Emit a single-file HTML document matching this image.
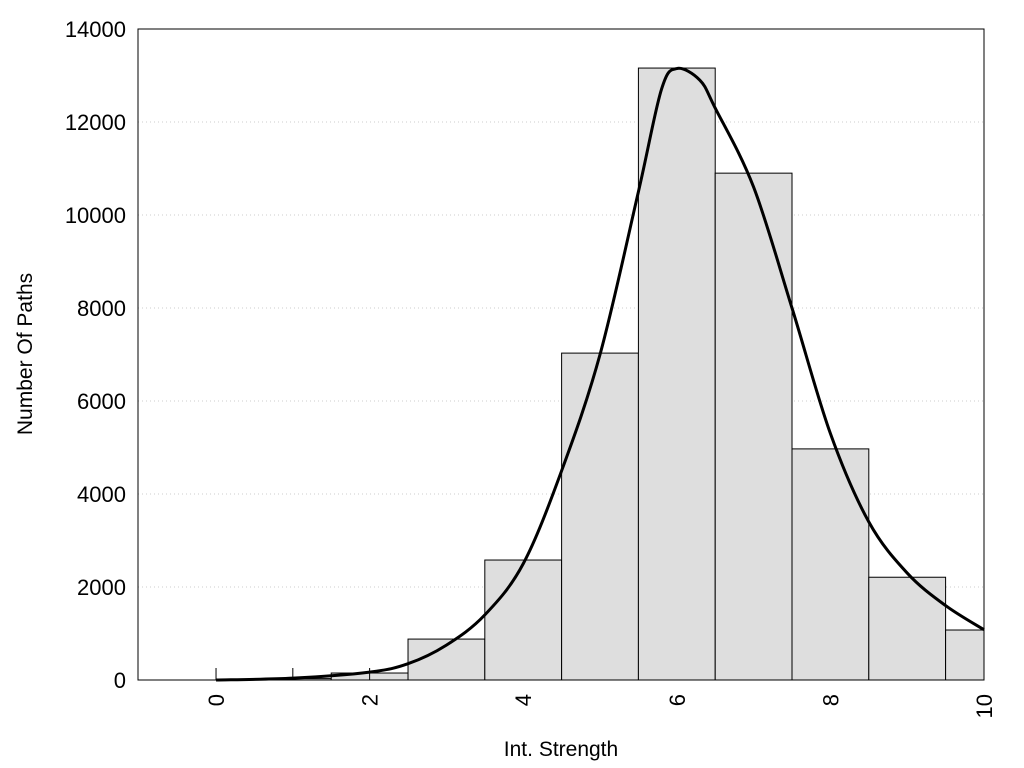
<!DOCTYPE html>
<html><head><meta charset="utf-8"><style>
body{margin:0;background:#fff}
svg{display:block;font-family:"Liberation Sans",sans-serif}
</style></head><body>
<svg id="chart" width="1024" height="768" viewBox="0 0 1024 768">
<g id="grid"></g>
<g id="bars"></g>
<g id="ticks"></g>
<path id="curve" fill="none" stroke="#000" stroke-width="3"/>
<rect x="138" y="29" width="846" height="651" fill="none" stroke="#000" stroke-width="1"/>
<g id="ylabels"></g>
<g id="xlabels"></g>
<text x="561" y="756" font-size="21" text-anchor="middle">Int. Strength</text>
<text transform="translate(32,354) rotate(-90)" font-size="21" text-anchor="middle">Number Of Paths</text>
</svg>
<script>
const binCenters=[0,1,2,3,4,5,6,7,8,9,10];
const binCounts=[0,30,150,880,2580,7030,13160,10900,4970,2210,1075];
const curveX=[0,1,2,2.5,3,3.5,4,4.5,5,5.5,5.8,6,6.3,6.5,7,7.5,8,8.5,9,9.5,10];
const curveY=[0,40,170,350,750,1400,2500,4500,7000,10500,12700,13150,12900,12300,10600,8000,5300,3400,2300,1600,1080];
const yTicks=[0,2000,4000,6000,8000,10000,12000,14000];
const xTicks=[0,2,4,6,8,10];
const X0=138,X1=984,Y0=680,Y1=29,XMIN=-1.016,XMAX=10,YMAX=14000;
const sx=v=>X0+(v-XMIN)/(XMAX-XMIN)*(X1-X0);
const sy=v=>Y0-v/YMAX*(Y0-Y1);
const NS="http://www.w3.org/2000/svg";
function mk(t,a,p){const e=document.createElementNS(NS,t);for(const k in a)e.setAttribute(k,a[k]);p.appendChild(e);return e;}
const grid=document.getElementById('grid'),bars=document.getElementById('bars'),ticks=document.getElementById('ticks'),yl=document.getElementById('ylabels'),xl=document.getElementById('xlabels');
yTicks.forEach(t=>{
 if(t>0&&t<YMAX){const g=mk('line',{x1:X0,x2:X1,y1:sy(t),y2:sy(t),stroke:'#ccc','stroke-dasharray':'1,3'},grid);
 
 }
 const tx=mk('text',{x:X0-12,y:sy(t)+8,'font-size':22,'text-anchor':'end'},yl);tx.textContent=t;
 
 
});
[0,1,2].forEach(t=>{const l=mk('line',{x1:sx(t),x2:sx(t),y1:Y0,y2:Y0-12,stroke:'#000'},ticks);
 
 });
binCenters.forEach((c,i)=>{
 if(binCounts[i]<=0)return;
 const a=Math.max(c-0.5,XMIN),b=Math.min(c+0.5,XMAX);
 const r=mk('rect',{x:sx(a),y:sy(binCounts[i]),width:sx(b)-sx(a),height:Y0-sy(binCounts[i]),fill:'#dedede',stroke:'#000','stroke-width':1},bars);
 
 
});
xTicks.forEach(t=>{const tx=mk('text',{transform:`translate(${sx(t)+8},${Y0+14}) rotate(-90)`,'font-size':22,'text-anchor':'end'},xl);tx.textContent=t;
 
 });
const P=curveX.map((x,i)=>[sx(x),sy(curveY[i])]);
let d=`M${P[0][0]},${P[0][1]}`;
for(let i=0;i<P.length-1;i++){const p0=P[Math.max(i-1,0)],p1=P[i],p2=P[i+1],p3=P[Math.min(i+2,P.length-1)];
 d+=` C${p1[0]+(p2[0]-p0[0])/6},${p1[1]+(p2[1]-p0[1])/6} ${p2[0]-(p3[0]-p1[0])/6},${p2[1]-(p3[1]-p1[1])/6} ${p2[0]},${p2[1]}`;}
document.getElementById('curve').setAttribute('d',d);
</script>
</body></html>
